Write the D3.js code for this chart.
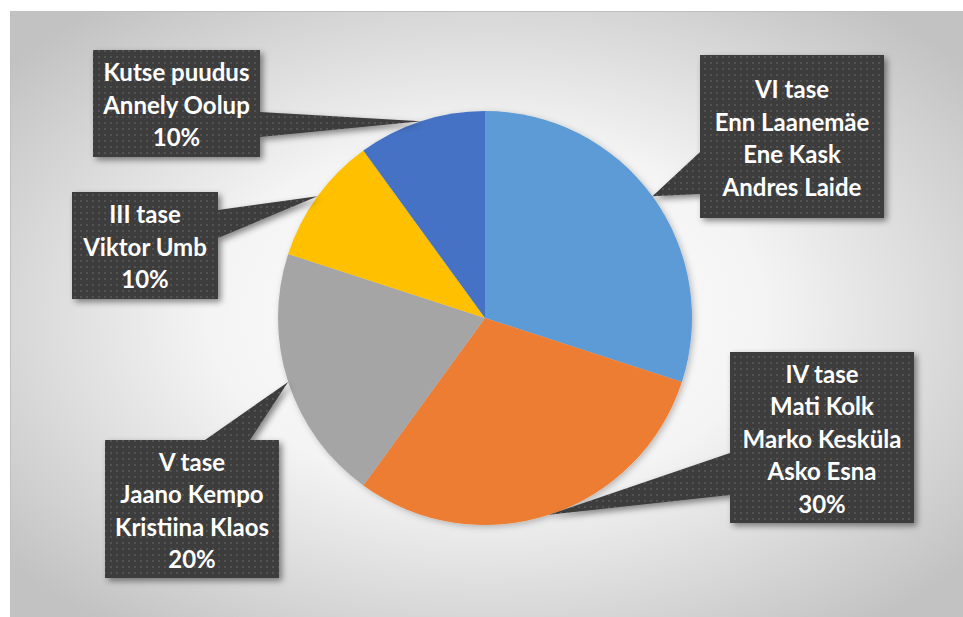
<!DOCTYPE html>
<html><head><meta charset="utf-8">
<script src="https://cdn.jsdelivr.net/npm/d3@7/dist/d3.min.js"></script>
<style>body{margin:0;background:#fff}svg{display:block}</style>
</head><body>
<svg id="c" width="963" height="617"></svg>
<script>
// ---- data ----
const categories = ["VI tase", "IV tase", "V tase", "III tase", "Kutse puudus"];
const values = [30, 30, 20, 10, 10];
const people = [
  ["Enn Laanemäe", "Ene Kask", "Andres Laide"],
  ["Mati Kolk", "Marko Kesküla", "Asko Esna"],
  ["Jaano Kempo", "Kristiina Klaos"],
  ["Viktor Umb"],
  ["Annely Oolup"]
];
const showPercent = [false, true, true, true, true];
const colors = ["#5B9BD5", "#ED7D31", "#A5A5A5", "#FFC000", "#4472C4"];

// ---- layout (label boxes) ----
const boxes = [
  {x:700, y:55,  w:184, h:163, side:"left",  b0:152, b1:194},
  {x:730, y:352, w:184, h:171, side:"left",  b0:453, b1:495},
  {x:105, y:440, w:174, h:138, side:"top",   b0:205, b1:250},
  {x:72,  y:192, w:146, h:107, side:"right", b0:210, b1:238},
  {x:93,  y:50,  w:167, h:107, side:"right", b0:112, b1:137}
];

const W = 963, H = 617, cx = 485, cy = 318, R = 207;
const svg = d3.select("#c");
const defs = svg.append("defs");

const rg = defs.append("radialGradient").attr("id","bg").attr("cx","50%").attr("cy","50%").attr("r","65%");
rg.append("stop").attr("offset","0%").attr("stop-color","#ffffff");
rg.append("stop").attr("offset","45%").attr("stop-color","#f4f4f4");
rg.append("stop").attr("offset","100%").attr("stop-color","#c2c2c2");

const pat = defs.append("pattern").attr("id","dots").attr("width",6).attr("height",6).attr("patternUnits","userSpaceOnUse");
pat.append("rect").attr("width",6).attr("height",6).attr("fill","#3d3d3d");
pat.append("rect").attr("x",2).attr("y",2).attr("width",2).attr("height",2).attr("fill","#525252");

const f = defs.append("filter").attr("id","sh").attr("x","-20%").attr("y","-20%").attr("width","150%").attr("height","150%");
f.append("feDropShadow").attr("dx",3).attr("dy",3).attr("stdDeviation",3).attr("flood-color","#000").attr("flood-opacity",0.45);
const f2 = defs.append("filter").attr("id","psh").attr("x","-20%").attr("y","-20%").attr("width","140%").attr("height","140%");
f2.append("feDropShadow").attr("dx",2).attr("dy",2).attr("stdDeviation",3).attr("flood-color","#000").attr("flood-opacity",0.25);

svg.append("rect").attr("x",10.5).attr("y",11.5).attr("width",W-10).attr("height",H-11)
  .attr("fill","url(#bg)").attr("stroke","#c0c0c0").attr("stroke-width",1);

const data = categories.map((c,i)=>({cat:c, value:values[i], i}));
const pie = d3.pie().value(d=>d.value).sort(null);
const arcs = pie(data);
const arc = d3.arc().innerRadius(0).outerRadius(R);

const g = svg.append("g").attr("transform",`translate(${cx},${cy})`).attr("filter","url(#psh)");
g.selectAll("path").data(arcs).join("path")
  .attr("d", arc).attr("fill", d=>colors[d.data.i]);

const total = d3.sum(values);
const fmt = d3.format(".0%");

arcs.forEach((a,i)=>{
  const b = boxes[i];
  const mid = (a.startAngle + a.endAngle)/2;
  const tx = cx + R*Math.sin(mid), ty = cy - R*Math.cos(mid);
  const x0=b.x, y0=b.y, x1=b.x+b.w, y1=b.y+b.h;
  let p;
  if (b.side==="left") p = `M${x0},${y0} L${x1},${y0} L${x1},${y1} L${x0},${y1} L${x0},${b.b1} L${tx},${ty} L${x0},${b.b0} Z`;
  else if (b.side==="right") p = `M${x0},${y0} L${x1},${y0} L${x1},${b.b0} L${tx},${ty} L${x1},${b.b1} L${x1},${y1} L${x0},${y1} Z`;
  else p = `M${x0},${y0} L${b.b0},${y0} L${tx},${ty} L${b.b1},${y0} L${x1},${y0} L${x1},${y1} L${x0},${y1} Z`;
  svg.append("path").attr("d",p).attr("fill","url(#dots)").attr("filter","url(#sh)");

  const lines = [categories[i], ...people[i]];
  if (showPercent[i]) lines.push(fmt(values[i]/total));
  const lh = 32.5;
  const midY = (y0+y1)/2 + 2;
  const t = svg.append("text").attr("text-anchor","middle")
    .attr("font-family","Lato, 'Open Sans', sans-serif").attr("font-weight","bold")
    .attr("font-size",24).attr("fill","#ffffff");
  lines.forEach((l,k)=>{
    t.append("tspan").attr("x",(x0+x1)/2)
      .attr("y", midY + (k-(lines.length-1)/2)*lh).attr("dy","0.35em").text(l);
  });
});
</script>
</body></html>
